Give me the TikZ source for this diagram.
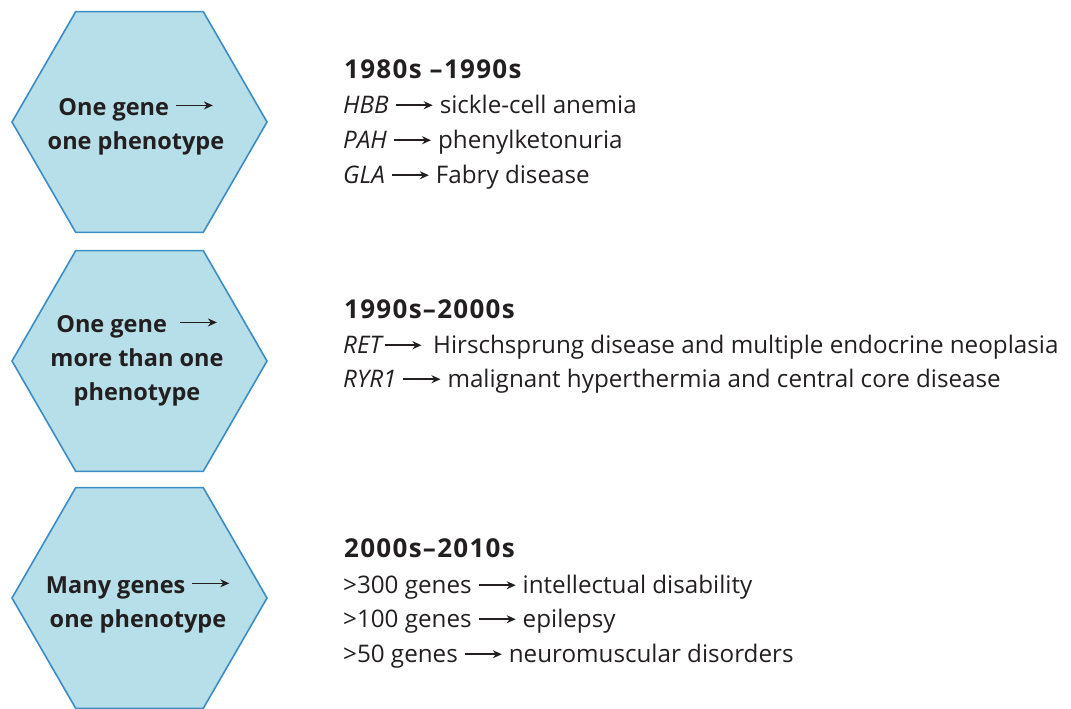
\documentclass[tikz,border=0pt]{standalone}
\usepackage{fontspec}
\setmainfont{Open Sans}
\usetikzlibrary{shapes.geometric,arrows.meta}

\definecolor{hexfill}{RGB}{183,223,233}
\definecolor{hexedge}{RGB}{60,141,196}
\definecolor{ink}{RGB}{35,31,32}

% short arrow set inside a line of text
\newcommand{\gto}[1][0.6ex]{\tikz[baseline=-#1]\draw[ink,line width=1.5pt,-{Stealth[length=9pt,width=8pt]}] (0pt,0pt) -- (37pt,0pt);}

\tikzset{
  hexa/.style={regular polygon, regular polygon sides=6, minimum size=255pt,
    inner sep=0pt, fill=hexfill, draw=hexedge, line width=1.6pt},
  hextext/.style={align=center, inner sep=0pt, text=ink,
    font=\fontsize{23.5}{34}\selectfont\bfseries},
  era/.style={anchor=base west, inner sep=0pt, text=ink,
    font=\fontsize{26}{30}\selectfont\bfseries\addfontfeatures{LetterSpace=5}},
  entry/.style={anchor=base west, inner sep=0pt, text=ink,
    font=\fontsize{24.2}{28}\selectfont},
}

\begin{document}
\begin{tikzpicture}[x=1pt,y=-1pt]
  \useasboundingbox (0,0) rectangle (1071,709);

  % the three hexagons
  \node[hexa] (h1) at (139.5,122) {};
  \node[hexa] (h2) at (139.5,361) {};
  \node[hexa] (h3) at (139.5,598) {};

  \node[hextext] (t1) at (136,127) {One gene \gto[0.8ex]\\one phenotype};
  \node[hextext] (t2) at (137,361) {One gene \ \gto[0.8ex]\\more than one\\phenotype};
  \node[hextext] (t3) at (138,605) {Many genes \gto[0.8ex]\\one phenotype};

  % 1980s -- 1990s
  \node[era]   (e1)  at (344,78)  {1980s –1990s};
  \node[entry] (e1a) at (343,113) {\textit{HBB} \gto{} sickle-cell anemia};
  \node[entry] (e1b) at (343,148) {\textit{PAH} \gto{} phenylketonuria};
  \node[entry] (e1c) at (343,183) {\textit{GLA} \gto{} Fabry disease};

  % 1990s -- 2000s
  \node[era]   (e2)  at (344,318) {1990s–2000s};
  \node[entry] (e2a) at (343,353) {\textit{RET}\gto\hspace{0.45em}Hirschsprung disease and multiple endocrine neoplasia};
  \node[entry] (e2b) at (343,387) {\textit{RYR1} \gto{} malignant hyperthermia and central core disease};

  % 2000s -- 2010s
  \node[era]   (e3)  at (344,557) {2000s–2010s};
  \node[entry] (e3a) at (343,593) {>300 genes \gto{} intellectual disability};
  \node[entry] (e3b) at (343,627) {>100 genes \gto{} epilepsy};
  \node[entry] (e3c) at (343,662) {>50 genes \gto{} neuromuscular disorders};
\end{tikzpicture}
\end{document}
